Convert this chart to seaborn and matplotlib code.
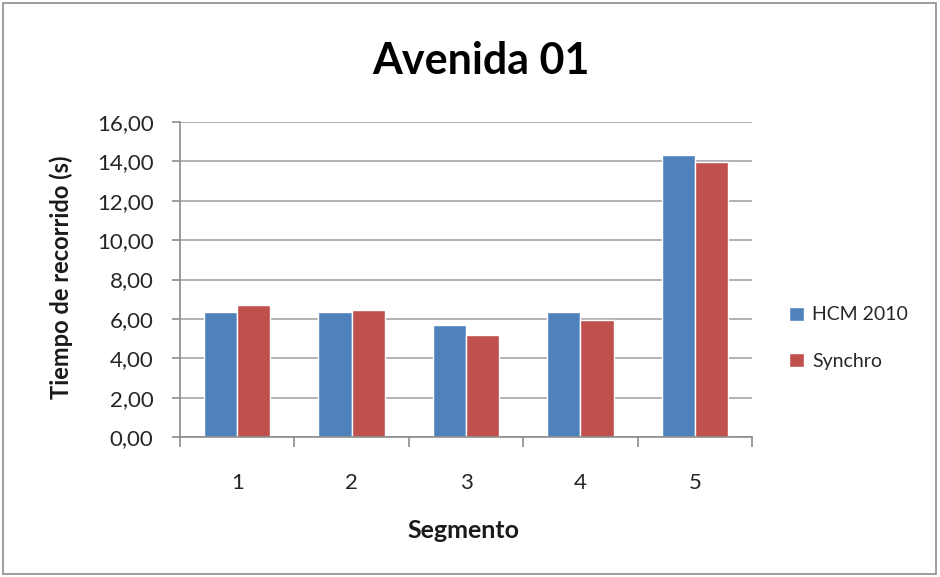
import matplotlib
matplotlib.use("Agg")
import matplotlib.pyplot as plt
import seaborn as sns
import pandas as pd
from matplotlib.patches import Rectangle

# Travel time per segment for both methods
segments = ["1", "2", "3", "4", "5"]
hcm_2010 = [6.33, 6.33, 5.67, 6.33, 14.30]
synchro = [6.72, 6.45, 5.18, 5.93, 13.95]
series_names = ["HCM 2010", "Synchro"]
y_ticks = [0, 2, 4, 6, 8, 10, 12, 14, 16]

df = pd.DataFrame({
    "Segmento": segments * 2,
    "Tiempo": hcm_2010 + synchro,
    "Serie": [series_names[0]] * len(segments) + [series_names[1]] * len(segments),
})

sns.set_theme(style="white")
plt.rcParams["font.family"] = ["Lato", "DejaVu Sans"]

W, H = 940, 577
fig = plt.figure(figsize=(W / 100, H / 100), dpi=100)
ax = fig.add_axes([180 / W, 1 - 437 / H, (752 - 180) / W, (437 - 122) / H])

palette = {"HCM 2010": "#4F81BD", "Synchro": "#C0504D"}
sns.barplot(data=df, x="Segmento", y="Tiempo", hue="Serie", palette=palette,
            width=0.58, gap=0, saturation=1, ax=ax, legend=True)

ax.set_xlim(-0.5, 4.5)
ax.set_ylim(0, 16)
ax.set_yticks(y_ticks)
ax.set_yticklabels([f"{v:.2f}".replace(".", ",") for v in y_ticks])
ax.yaxis.grid(True, color="#A6A6A6", linewidth=1.2)
ax.set_axisbelow(True)

for side in ["top", "right"]:
    ax.spines[side].set_visible(False)
for side in ["left", "bottom"]:
    ax.spines[side].set_color("#8C8C8C")
    ax.spines[side].set_linewidth(1.2)

text_color = "#262626"
ax.tick_params(axis="y", which="major", left=True, length=6, width=1.2,
               color="#8C8C8C", labelsize=16, labelcolor=text_color, pad=13)
ax.tick_params(axis="x", which="major", bottom=False, labelsize=16,
               labelcolor=text_color, pad=20)
ax.set_xticks([-0.5, 0.5, 1.5, 2.5, 3.5, 4.5], minor=True)
ax.tick_params(axis="x", which="minor", bottom=True, length=7, width=1.2,
               color="#8C8C8C")

ax.set_xlabel("Segmento", fontsize=18, fontweight="bold", color="#1A1A1A")
ax.xaxis.set_label_coords(0.495, -0.26)
ax.set_ylabel("Tiempo de recorrido (s)", fontsize=17, fontweight="bold",
              color="#1A1A1A")
ax.yaxis.set_label_coords(-0.187, 0.508)
fig.text(481 / W, 1 - 61 / H, "Avenida 01", ha="center", va="center",
         fontsize=31, fontweight="bold", color="#000000")

handles, labels = ax.get_legend_handles_labels()
ax.legend(handles, labels, loc="center left", bbox_to_anchor=(789 / W, 1 - 338 / H),
          bbox_transform=fig.transFigure, frameon=False, fontsize=14,
          handlelength=0.75, handleheight=0.75, handletextpad=0.45,
          labelspacing=1.5, borderaxespad=0, borderpad=0,
          labelcolor=text_color)

fig.patches.append(Rectangle((3 / W, 3 / H), 933 / W, 571 / H,
                             transform=fig.transFigure, fill=False,
                             edgecolor="#8C8C8C", linewidth=1.2))

fig.savefig("out.png", dpi=100)
